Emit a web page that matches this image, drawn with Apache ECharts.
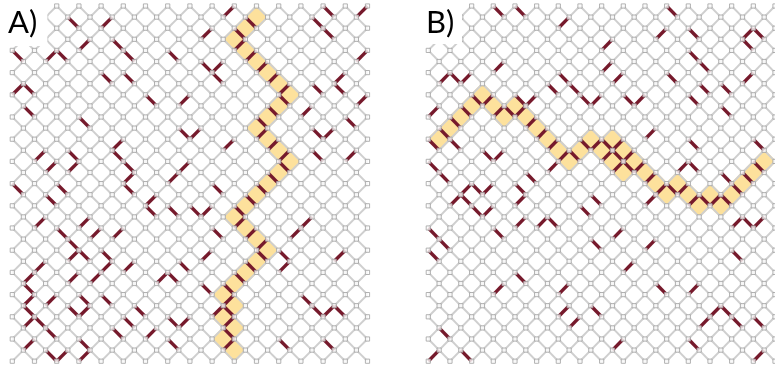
<!DOCTYPE html>
<html><head><meta charset="utf-8">
<script src="https://cdn.jsdelivr.net/npm/echarts@6/dist/echarts.min.js"></script>
<style>html,body{margin:0;padding:0;background:#fff}#c{width:775px;height:366px}</style>
</head><body><div id="c"></div>
<script>
// lattice size (node indices 0..LAST in both directions, nodes where i+j even)
const LAST = 32;
const panelLabels = ['A)', 'B)'];
// red (broken) bonds: [i, j, dir]; 'd' = (i,j)->(i+1,j+1), 'u' = (i,j+1)->(i+1,j)
const redA = [
 [5,1,'d'],[8,1,'u'],[6,3,'u'],[9,3,'d'],[10,4,'d'],[0,4,'d'],[3,4,'u'],[4,4,'d'],[14,4,'d'],[8,6,'d'],[10,6,'d'],
 [0,7,'u'],[1,7,'d'],[12,8,'d'],[1,9,'d'],[6,10,'d'],[9,12,'u'],[9,13,'d'],[10,14,'d'],[10,15,'u'],[2,13,'u'],
 [5,13,'d'],[5,14,'u'],[3,14,'u'],[0,16,'d'],
 [4,16,'d'],[10,16,'d'],[14,15,'u'],[3,17,'d'],[12,17,'u'],[12,18,'d'],[14,18,'d'],[2,19,'u'],[6,19,'u'],[4,20,'d'],
 [7,20,'u'],[9,20,'u'],[5,21,'d'],[5,22,'u'],[6,22,'d'],[8,22,'d'],[8,23,'u'],[2,23,'u'],[1,24,'u'],[10,23,'u'],
 [5,24,'u'],[7,24,'u'],[13,24,'u'],[14,24,'d'],[1,25,'d'],[1,26,'u'],[3,26,'u'],[5,27,'d'],[6,27,'u'],[6,26,'d'],
 [8,26,'d'],[11,27,'d'],[14,28,'d'],[1,27,'d'],[1,28,'u'],[2,28,'d'],[3,29,'d'],[9,29,'d'],[10,28,'d'],[12,29,'u'],
 [6,30,'d'],[1,30,'u'],[3,31,'d'],[4,31,'u'],[6,31,'u'],[14,30,'d'],
 [19,0,'u'],[17,2,'u'],[27,1,'d'],[28,0,'d'],[31,0,'u'],[17,5,'d'],[18,5,'u'],[18,6,'d'],[15,8,'u'],
 [28,2,'d'],[31,4,'u'],[27,7,'d'],[29,6,'u'],[29,7,'d'],[26,9,'u'],[27,11,'d'],[28,11,'u'],[30,10,'d'],[31,8,'u'],
 [27,13,'d'],[30,13,'u'],[15,11,'d'],[16,11,'u'],[19,12,'u'],[15,14,'u'],
 [18,16,'d'],[16,18,'d'],[17,18,'u'],[15,23,'d'],[17,22,'u'],[26,19,'u'],[25,20,'u'],[24,22,'d'],[29,22,'u'],
 [24,23,'u'],[26,26,'d'],[27,27,'d'],[28,27,'u'],[29,27,'d'],[28,30,'d'],[24,30,'d'],[18,20,'d'],[17,25,'d'],
 [18,27,'u'],[15,28,'u']
];
const yellowA = [[22,1],[21,2],[20,3],[21,4],[22,5],[23,6],[24,7],[25,8],[24,9],[23,10],[22,11],[23,12],[24,13],
 [25,14],[24,15],[23,16],[22,17],[21,18],[20,19],[21,20],[22,21],[23,22],[22,23],[21,24],[20,25],[19,26],[20,27],
 [19,28],[20,29],[19,30],[20,31]];
const redB = [
 [6,0,'d'],[8,0,'d'],[12,1,'u'],[6,5,'u'],[1,6,'u'],[2,6,'d'],[3,6,'u'],[12,6,'d'],[11,7,'d'],[13,7,'d'],[14,8,'d'],
 [0,9,'u'],[8,8,'d'],[9,8,'u'],[0,12,'d'],[2,12,'d'],[5,13,'d'],[6,13,'u'],[0,14,'d'],[1,15,'d'],[11,14,'u'],
 [9,15,'d'],[2,17,'u'],[3,16,'u'],[3,17,'d'],[4,16,'d'],[5,16,'u'],[4,18,'d'],[5,18,'u'],[8,16,'d'],[8,17,'u'],
 [14,18,'d'],[8,19,'u'],[10,19,'u'],[11,19,'d'],[0,20,'d'],[6,20,'d'],[1,21,'d'],[0,22,'d'],[8,24,'d'],[6,25,'u'],
 [12,25,'u'],[12,27,'u'],[13,28,'u'],[1,29,'d'],[0,31,'u'],[3,31,'d'],
 [22,0,'d'],[21,2,'u'],[24,2,'d'],[29,2,'u'],[30,2,'d'],[29,3,'d'],[16,3,'u'],[24,4,'d'],[25,5,'d'],[16,5,'u'],
 [17,6,'u'],[22,6,'d'],[27,7,'d'],[25,7,'d'],[29,6,'u'],[15,8,'u'],[18,8,'d'],[19,8,'u'],[24,8,'d'],[27,9,'d'],
 [20,11,'u'],[24,12,'d'],[30,12,'d'],[23,14,'u'],[24,14,'d'],[27,15,'d'],[15,17,'d'],[20,17,'u'],[28,19,'u'],
 [29,19,'d'],[30,19,'u'],[17,20,'u'],[15,21,'d'],[20,21,'u'],[28,22,'d'],[18,23,'u'],[21,25,'d'],[24,25,'u'],
 [15,27,'d'],[25,28,'u'],[26,27,'u'],[27,27,'d'],[28,28,'d'],[30,28,'d'],[17,30,'u'],[24,30,'d'],[30,31,'u']
];
const yellowB = [[1,12],[2,11],[3,10],[4,9],[5,8],[6,9],[7,10],[8,9],[9,10],[10,11],[11,12],[12,13],[13,14],
 [14,13],[15,12],[16,13],[17,12],[18,13],[17,14],[19,14],[18,15],[20,15],[21,16],[22,17],[23,16],[24,17],[25,18],
 [26,17],[27,18],[28,17],[29,16],[30,15],[31,14]];

const panels = [
  {red: redA, yellow: yellowA, label: panelLabels[0]},
  {red: redB, yellow: yellowB, label: panelLabels[1]}
];

function nodes(){ const a=[]; for(let i=0;i<=LAST;i++) for(let j=0;j<=LAST;j++) if((i+j)%2===0) a.push([i,j]); return a; }
function grayEdges(){ const a=[]; for(const [i,j] of nodes()){ if(i<LAST&&j<LAST) a.push({coords:[[i,j],[i+1,j+1]]}); if(i<LAST&&j>0) a.push({coords:[[i,j],[i+1,j-1]]}); } return a; }
function bond(b){ const [i,j,d]=b; return d==='d'?{coords:[[i,j],[i+1,j+1]]}:{coords:[[i,j+1],[i+1,j]]}; }
// bonds crossed by the crack path: shared edge of adjacent yellow cells
function crackBonds(cells){ const a=[]; const set=new Set(cells.map(c=>c.join(','))); for(const [x,y] of cells){ if(set.has((x+1)+','+(y+1))) a.push([x,y,'u']); if(set.has((x+1)+','+(y-1))) a.push([x,y-1,'d']); } return a; }

const UNIT = 11.1;
const origins = [[12.3, 6], [428.3, 6]];
const grid = [], xAxis = [], yAxis = [], series = [];
const common = {clip:false, silent:true, progressive:0, large:false};
panels.forEach((p, k) => {
  grid.push({left: origins[k][0], top: origins[k][1], width: LAST*UNIT, height: LAST*UNIT, containLabel:false});
  xAxis.push({type:'value', gridIndex:k, min:0, max:LAST, show:false});
  yAxis.push({type:'value', gridIndex:k, min:0, max:LAST, inverse:true, show:false});
  series.push(Object.assign({type:'scatter', xAxisIndex:k, yAxisIndex:k, z:1, symbol:'roundRect', symbolSize:17.5, symbolRotate:45,
    itemStyle:{color:'#fdd983'}, data: p.yellow}, common));
  series.push(Object.assign({type:'lines', coordinateSystem:'cartesian2d', xAxisIndex:k, yAxisIndex:k, z:2,
    lineStyle:{color:'#cfcfcf', width:2, opacity:1}, data: grayEdges()}, common));
  series.push(Object.assign({type:'lines', coordinateSystem:'cartesian2d', xAxisIndex:k, yAxisIndex:k, z:3,
    lineStyle:{color:'#761a2c', width:3.4, opacity:1}, data: p.red.concat(crackBonds(p.yellow)).map(bond)}, common));
  series.push(Object.assign({type:'scatter', xAxisIndex:k, yAxisIndex:k, z:4, symbol:'rect', symbolSize:4.2,
    itemStyle:{color:'#ffffff', borderColor:'#a0a0a0', borderWidth:1}, data: nodes()}, common));
});

const chart = echarts.init(document.getElementById('c'), null, {renderer:'canvas'});
chart.setOption({
  animation:false, backgroundColor:'#ffffff', grid, xAxis, yAxis, series,
  graphic:[
    {type:'rect', left:0, top:0, shape:{width:47.5, height:46}, style:{fill:'#fff'}, z:100},
    {type:'rect', left:415, top:0, shape:{width:47, height:44}, style:{fill:'#fff'}, z:100},
    {type:'text', left:8, top:7, z:101, style:{text:panelLabels[0], font:'31px Lato', fill:'#000'}},
    {type:'text', left:426, top:7, z:101, style:{text:panelLabels[1], font:'31px Lato', fill:'#000'}}
  ]
});
</script></body></html>
